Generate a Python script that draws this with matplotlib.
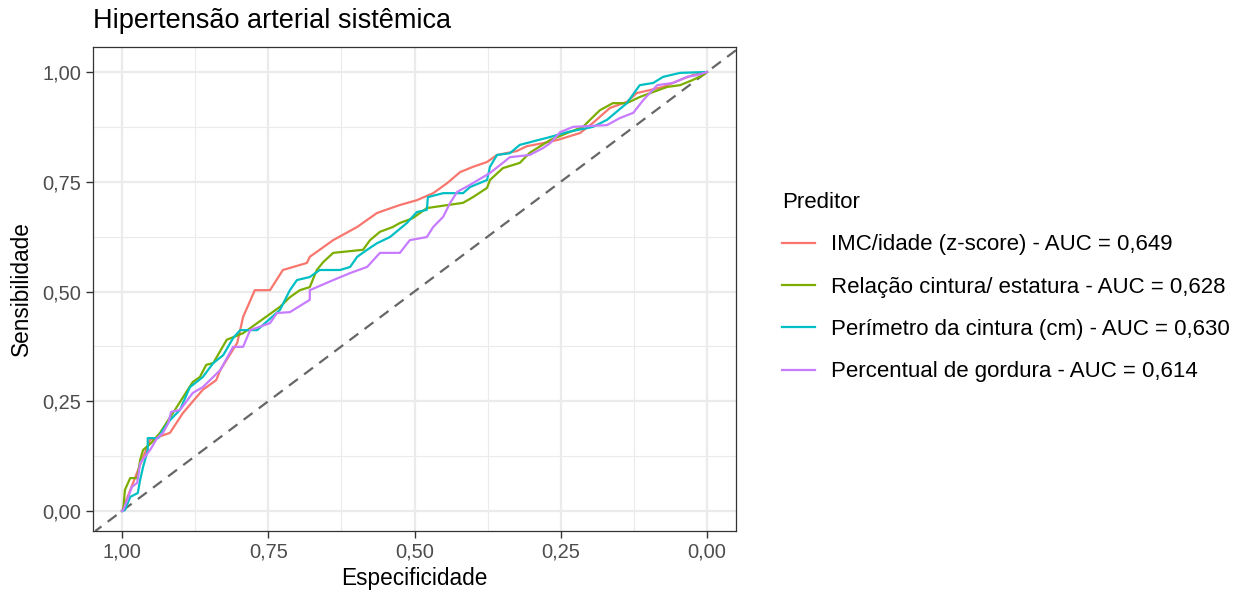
import matplotlib
matplotlib.use("Agg")
import matplotlib.pyplot as plt
import numpy as np

plt.rcParams["font.family"] = ["Liberation Sans", "DejaVu Sans"]

# =============================================================================
# DATA
# =============================================================================

preditores = [
    "IMC/idade (z-score) - AUC = 0,649",
    "Relação cintura/ estatura - AUC = 0,628",
    "Perímetro da cintura (cm) - AUC = 0,630",
    "Percentual de gordura - AUC = 0,614",
]
cores = ["#F8766D", "#7CAE00", "#00BFC4", "#C77CFF"]

imc_spec = [1.000, 0.969, 0.952, 0.918, 0.896, 0.862, 0.839, 0.832, 0.803, 0.793,
            0.773, 0.747, 0.725, 0.684, 0.679, 0.639, 0.598, 0.564, 0.525, 0.496,
            0.468, 0.444, 0.422, 0.400, 0.376, 0.359, 0.325, 0.308, 0.280, 0.256,
            0.217, 0.195, 0.166, 0.137, 0.120, 0.097, 0.075, 0.046, 0.024, 0.000]
imc_sens = [0.000, 0.105, 0.162, 0.178, 0.223, 0.276, 0.298, 0.321, 0.383, 0.442,
            0.503, 0.503, 0.549, 0.565, 0.579, 0.617, 0.647, 0.679, 0.697, 0.708,
            0.724, 0.747, 0.772, 0.784, 0.795, 0.811, 0.820, 0.831, 0.838, 0.845,
            0.861, 0.884, 0.918, 0.932, 0.952, 0.959, 0.966, 0.982, 0.993, 1.000]

rce_spec = [1.000, 0.998, 0.995, 0.986, 0.974, 0.969, 0.964, 0.950, 0.935, 0.921,
            0.913, 0.891, 0.879, 0.867, 0.856, 0.844, 0.821, 0.793, 0.730, 0.713,
            0.696, 0.679, 0.667, 0.656, 0.639, 0.588, 0.576, 0.559, 0.537, 0.525,
            0.503, 0.479, 0.417, 0.400, 0.376, 0.371, 0.349, 0.320, 0.303, 0.268,
            0.239, 0.212, 0.200, 0.183, 0.161, 0.137, 0.115, 0.097, 0.068, 0.046,
            0.024, 0.007, 0.000]
rce_sens = [0.000, 0.002, 0.048, 0.075, 0.075, 0.116, 0.139, 0.155, 0.178, 0.207,
            0.223, 0.269, 0.294, 0.305, 0.333, 0.337, 0.390, 0.405, 0.465, 0.487,
            0.503, 0.510, 0.549, 0.567, 0.588, 0.595, 0.617, 0.636, 0.647, 0.656,
            0.667, 0.690, 0.702, 0.715, 0.736, 0.754, 0.781, 0.793, 0.816, 0.845,
            0.861, 0.875, 0.891, 0.913, 0.929, 0.929, 0.943, 0.952, 0.966, 0.970,
            0.982, 0.993, 1.000]

pc_spec = [1.000, 0.995, 0.986, 0.973, 0.969, 0.964, 0.956, 0.956, 0.938, 0.930,
           0.918, 0.901, 0.884, 0.862, 0.844, 0.827, 0.810, 0.798, 0.769, 0.730,
           0.713, 0.701, 0.679, 0.662, 0.627, 0.610, 0.598, 0.581, 0.564, 0.542,
           0.513, 0.496, 0.479, 0.477, 0.451, 0.417, 0.405, 0.376, 0.371, 0.359,
           0.337, 0.320, 0.268, 0.239, 0.195, 0.171, 0.137, 0.115, 0.092, 0.075,
           0.046, 0.000]
pc_sens = [0.000, 0.002, 0.032, 0.041, 0.071, 0.100, 0.139, 0.166, 0.166, 0.185,
           0.207, 0.230, 0.282, 0.305, 0.337, 0.355, 0.394, 0.412, 0.412, 0.458,
           0.503, 0.526, 0.533, 0.549, 0.549, 0.556, 0.579, 0.595, 0.610, 0.624,
           0.656, 0.681, 0.686, 0.715, 0.724, 0.724, 0.738, 0.754, 0.784, 0.811,
           0.815, 0.834, 0.852, 0.863, 0.875, 0.891, 0.929, 0.970, 0.975, 0.989,
           0.998, 1.000]

pg_spec = [1.000, 0.998, 0.991, 0.983, 0.974, 0.969, 0.952, 0.940, 0.930, 0.921,
           0.916, 0.901, 0.879, 0.862, 0.832, 0.815, 0.810, 0.793, 0.781, 0.747,
           0.735, 0.713, 0.679, 0.679, 0.639, 0.610, 0.581, 0.559, 0.525, 0.508,
           0.479, 0.468, 0.451, 0.439, 0.427, 0.405, 0.371, 0.349, 0.337, 0.303,
           0.280, 0.268, 0.251, 0.229, 0.171, 0.149, 0.126, 0.109, 0.085, 0.058,
           0.034, 0.017, 0.000]
pg_sens = [0.000, 0.002, 0.025, 0.055, 0.064, 0.109, 0.139, 0.166, 0.178, 0.200,
           0.226, 0.230, 0.269, 0.282, 0.321, 0.362, 0.374, 0.374, 0.412, 0.428,
           0.451, 0.453, 0.481, 0.503, 0.526, 0.542, 0.556, 0.588, 0.588, 0.617,
           0.624, 0.647, 0.670, 0.702, 0.727, 0.743, 0.770, 0.793, 0.806, 0.811,
           0.827, 0.838, 0.863, 0.875, 0.879, 0.895, 0.907, 0.936, 0.970, 0.975,
           0.989, 0.993, 1.000]

curvas = [(imc_spec, imc_sens), (rce_spec, rce_sens),
          (pc_spec, pc_sens), (pg_spec, pg_sens)]

ticks = [0.0, 0.25, 0.5, 0.75, 1.0]
tick_labels = ["0,00", "0,25", "0,50", "0,75", "1,00"]

# =============================================================================
# PLOT
# =============================================================================

W, H = 1233, 597
fig = plt.figure(figsize=(W / 100, H / 100), dpi=100)
ax = fig.add_axes([93 / W, 1 - 531 / H, (736 - 93) / W, (531 - 47) / H])

ax.set_xlim(1 + 29 / 585, -29 / 585)
ax.set_ylim(-20 / 439, 1 + 25 / 439)

# theme_bw grid
for v in [0.125, 0.375, 0.625, 0.875]:
    ax.axvline(v, color="#EBEBEB", lw=0.8, zorder=0)
    ax.axhline(v, color="#EBEBEB", lw=0.8, zorder=0)
for v in ticks:
    ax.axvline(v, color="#EBEBEB", lw=1.6, zorder=0)
    ax.axhline(v, color="#EBEBEB", lw=1.6, zorder=0)

# reference line: sensibilidade = 1 - especificidade
ax.axline((1, 0), (0, 1), color="#666666", lw=1.6, ls=(0, (5, 3.5)), zorder=1)

for (spec, sens), nome, cor in zip(curvas, preditores, cores):
    ax.plot(spec, sens, color=cor, lw=1.6, label=nome, zorder=2)

ax.set_xticks(ticks)
ax.set_xticklabels(tick_labels)
ax.set_yticks(ticks)
ax.set_yticklabels(tick_labels)
ax.tick_params(labelsize=14.5, colors="#333333", labelcolor="#4D4D4D",
               length=5, width=1.0, pad=3.5)
for s in ax.spines.values():
    s.set_color("#333333")
    s.set_linewidth(0.9)

ax.set_xlabel("Especificidade", fontsize=16.3, labelpad=4)
ax.set_ylabel("Sensibilidade", fontsize=16.3, labelpad=7)
fig.text(93 / W, 1 - 21 / H, "Hipertensão arterial sistêmica", fontsize=19.5,
         ha="left", va="center")

handles, labels = ax.get_legend_handles_labels()
leg = fig.legend(handles, labels, title="Preditor", loc="upper left",
                 bbox_to_anchor=(762 / W, 1 - 172 / H), frameon=False,
                 fontsize=16, title_fontsize=16, alignment="left",
                 handlelength=1.5, handletextpad=0.72, labelspacing=0.96)

fig.savefig("out.png", dpi=100)
